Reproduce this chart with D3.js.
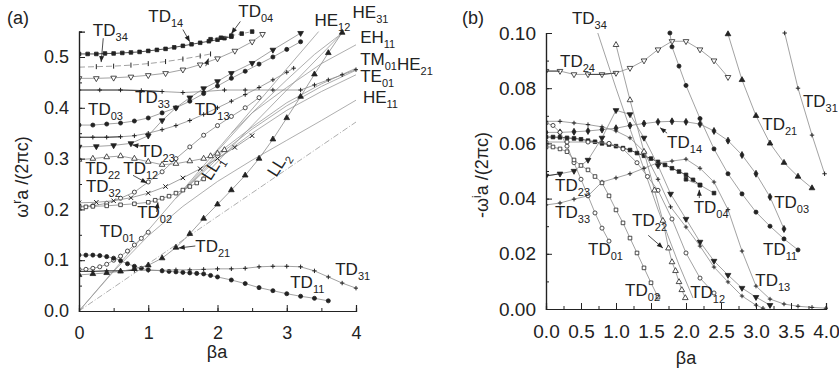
<!DOCTYPE html>
<html>
<head>
<meta charset="utf-8">
<script src="https://cdnjs.cloudflare.com/ajax/libs/d3/7.8.5/d3.min.js"></script>
<style>
  body { margin: 0; background: #fff; }
  svg { font-family: "Liberation Sans", Arial, sans-serif; }
</style>
</head>
<body>
<svg id="chart" width="839" height="372"></svg>
<script>
// ---- panel (a): real part, [beta*a, omega_r a/2pi c] ----
const td14A = [[0,.506],[.125,.506],[.25,.506],[.375,.507],[.5,.507],[.625,.508],[.75,.509],[.875,.51],[1,.512],[1.125,.514],[1.25,.516],[1.375,.519],[1.5,.522],[1.625,.525],[1.75,.528],[1.875,.531],[2,.534],[2.1,.537],[2.2,.54]];
const td04A = [[1.9,.535],[2.05,.538],[2.2,.542],[2.35,.546],[2.5,.55]];
const td34A = [[0,.48],[.25,.481],[.5,.482],[.75,.484],[1,.487],[1.25,.491],[1.5,.496],[1.75,.502],[1.9,.506]];
const td24A = [[0,.458],[.25,.458],[.5,.459],[.75,.461],[1,.464],[1.25,.468],[1.5,.475],[1.75,.485],[2,.497],[2.25,.512],[2.5,.53],[2.65,.545]];
const td33A = [[0,.435],[.3,.435],[.6,.435],[.9,.434],[1.2,.432],[1.5,.43],[1.8,.432],[2.1,.435],[2.4,.435],[2.8,.435],[3.2,.435],[3.4,.445],[3.6,.455],[3.8,.465],[4,.475]];
const td03A = [[0,.366],[.2,.366],[.4,.368],[.6,.37],[.8,.374],[1,.38],[1.2,.39],[1.4,.4],[1.6,.413],[1.8,.428],[2,.443],[2.2,.458],[2.4,.472],[2.6,.486],[2.8,.5],[3,.515],[3.2,.53]];
const td13A = [[0,.342],[.2,.342],[.4,.342],[.6,.343],[.8,.345],[1,.35],[1.2,.357],[1.4,.365],[1.6,.375],[1.8,.387],[2,.4],[2.2,.413],[2.4,.426],[2.6,.44],[2.8,.455],[3,.47],[3.1,.478]];
const td23A = [[0,.323],[.25,.324],[.5,.326],[.75,.33],[1,.345],[1.2,.375],[1.4,.4],[1.6,.42],[1.8,.438],[2,.452],[2.2,.468],[2.5,.488],[2.8,.514],[3.2,.547]];
const td22A = [[0,.298],[.2,.3],[.4,.303],[.6,.305],[.8,.3],[1,.294],[1.2,.288],[1.4,.29],[1.6,.295],[1.8,.3],[1.9,.305],[2,.31],[2.1,.317]];
const td12A = [[0,.206],[.2,.207],[.4,.212],[.6,.222],[.8,.234],[1,.254],[1.2,.274],[1.4,.3],[1.6,.323],[1.8,.346],[2,.365],[2.2,.383],[2.4,.4],[2.6,.42]];
const td32A = [[0,.213],[.25,.214],[.5,.217],[.75,.223],[1,.232],[1.25,.245],[1.5,.262],[1.75,.28],[2,.3],[2.25,.322],[2.5,.345]];
const td02A = [[0,.205],[.1,.205],[.2,.206],[.4,.207],[.6,.209],[.8,.211],[1,.214],[1.1,.218],[1.2,.222],[1.3,.226],[1.4,.232],[1.5,.238],[1.6,.245],[1.7,.252],[1.8,.26]];
const td01A = [[0,.082],[.1,.082],[.2,.084],[.3,.087],[.4,.092],[.5,.1],[.6,.108],[.7,.118],[.8,.13],[.9,.143],[1,.155]];
const td11A = [[0,.11],[.1,.11],[.2,.11],[.3,.109],[.4,.107],[.5,.104],[.6,.099],[.7,.093],[.8,.088],[.9,.084],[1,.081],[1.2,.079],[1.3,.078],[1.4,.077],[1.5,.076],[1.6,.075],[1.7,.074],[1.8,.073],[1.9,.07],[2,.067],[2.2,.061],[2.4,.054],[2.6,.046],[2.8,.04],[3,.034],[3.2,.029],[3.4,.025],[3.6,.02]];
const td31A = [[0,.078],[.2,.078],[.4,.079],[.6,.079],[.8,.08],[1,.08],[1.2,.08],[1.4,.081],[1.6,.081],[1.8,.082],[2,.083],[2.2,.083],[2.4,.084],[2.6,.087],[2.8,.088],[3,.088],[3.2,.087],[3.4,.079],[3.6,.067],[3.8,.055],[4,.045]];
const td21A = [[0,.071],[.2,.073],[.4,.075],[.6,.078],[.8,.083],[1,.09],[1.2,.104],[1.4,.125],[1.6,.152],[1.8,.182],[2,.21],[2.2,.238],[2.4,.267],[2.6,.3],[2.8,.338],[3,.38],[3.2,.422],[3.4,.466],[3.6,.508],[3.8,.548]];

// light lines and rod modes (no markers)
const ll1A = [[0,0],[3.46,.55]];
const ll2A = [[0,0],[4,.372]];
const he11A = [[0,0],[.5,.078],[1,.148],[1.5,.206],[2,.255],[2.5,.297],[3,.336],[3.5,.375],[4,.415]];
const te01A = [[1.4,.222],[2,.3],[2.5,.35],[3,.395],[3.5,.432],[4,.465]];
const tm01A = [[1.4,.222],[2,.305],[2.5,.358],[3,.404],[3.5,.442],[4,.474]];
const he21A = [[1.45,.23],[2,.31],[2.5,.362],[3,.41],[3.5,.447],[4,.478]];
const eh11A = [[2.2,.35],[2.5,.39],[3,.44],[3.5,.487],[4,.524]];
const he12A = [[1.75,.258],[2.5,.365],[3,.435],[3.5,.505],[3.8,.547]];
const he31A = [[1.9,.3],[2.5,.39],[3,.455],[3.4,.505],[3.8,.547]];

// ---- panel (b): imaginary part, [beta*a, -omega_i a/2pi c] ----
const td24B = [[0,.0862],[.2,.0862],[.4,.085],[.6,.085],[.8,.085],[1,.0855],[1.2,.0873],[1.4,.09],[1.6,.094],[1.8,.097],[2,.097],[2.2,.094],[2.4,.09],[2.6,.084]];
const td34B = [[.74,.1],[1,.08],[1.3,.058],[1.6,.036],[1.9,.016],[2.1,.004]];
const td31B = [[3.41,.1],[3.6,.08],[3.8,.063],[3.98,.049]];
const td21B = [[2.6,.0996],[2.8,.083],[3,.07],[3.2,.06],[3.4,.053],[3.6,.048],[3.8,.0438]];
const td11B = [[1.77,.1],[1.8,.095],[1.9,.088],[2,.081],[2.2,.069],[2.4,.058],[2.6,.049],[2.8,.0417],[3,.0351],[3.2,.03],[3.4,.0254],[3.6,.0214]];
const td03B = [[0,.064],[.2,.064],[.4,.0642],[.6,.0645],[.8,.065],[1,.0655],[1.2,.0665],[1.4,.0672],[1.6,.0678],[1.8,.068],[2,.0678],[2.2,.067],[2.4,.0645],[2.6,.061],[2.8,.0558],[3,.049],[3.2,.0406],[3.4,.029]];
const td14B = [[0,.0623],[.1,.0623],[.2,.0622],[.3,.062],[.4,.0618],[.5,.0615],[.6,.061],[.7,.0606],[.8,.06],[.9,.0596],[1,.059],[1.1,.0583],[1.2,.0576],[1.3,.0565],[1.4,.0555],[1.5,.0545],[1.6,.0533],[1.7,.0522],[1.8,.051],[1.9,.0498],[2,.0486],[2.1,.0468],[2.2,.0449]];
const td04B = [[2,.047],[2.2,.0449],[2.4,.042]];
const td23B = [[0,.0482],[.2,.049],[.4,.05],[.6,.054],[.8,.062],[1,.072],[1.2,.0705],[1.4,.062],[1.6,.052],[1.78,.0417],[2,.0326],[2.2,.0243],[2.4,.0174],[2.6,.0123],[2.8,.0076],[3,.0043],[3.2,.0014]];
const td13B = [[0,.068],[.2,.068],[.4,.0674],[.6,.0668],[.8,.066],[1,.0645],[1.2,.062],[1.4,.057],[1.6,.047],[1.78,.037],[2,.0297],[2.2,.0228],[2.4,.0152],[2.6,.0098],[2.8,.0047],[3,.0014],[3.1,.0003]];
const td33B = [[0,.0377],[.2,.0384],[.4,.0398],[.6,.041],[.8,.046],[1,.0475],[1.2,.049],[1.4,.051],[1.6,.053],[1.8,.0536],[2,.0543],[2.2,.051],[2.4,.046],[2.6,.036],[2.8,.021],[3,.0083],[3.2,.0036],[3.4,.0018],[3.6,.001],[3.8,.0006],[4,.0003]];
const td01B = [[0,.0674],[.1,.0665],[.2,.064],[.3,.059],[.4,.053],[.5,.047],[.6,.041],[.7,.0348],[.8,.0293],[.9,.0246]];
const td02B = [[0,.0587],[.1,.0587],[.2,.058],[.3,.057],[.4,.054],[.5,.052],[.6,.0504],[.7,.048],[.8,.0457],[.9,.041],[1,.0359],[1.1,.0312],[1.2,.0257],[1.3,.0203],[1.4,.0149],[1.5,.0095],[1.6,.0043]];
const td12B = [[0,.0605],[.3,.0605],[.6,.0605],[.9,.06],[1.1,.058],[1.3,.053],[1.45,.048],[1.6,.043],[1.8,.0326],[2,.0203],[2.2,.0112],[2.4,.0058]];
const td22B = [[1,.0957],[1.2,.0757],[1.4,.057],[1.55,.043],[1.67,.032],[1.75,.022],[1.8,.017],[1.85,.0138],[1.9,.0098],[1.94,.0069],[1.99,.004]];

// tick values
const xTicksA = [0, 1, 2, 3, 4];
const yTicksA = [0, .1, .2, .3, .4, .5];
const xTicksB = [0, .5, 1, 1.5, 2, 2.5, 3, 3.5, 4];
const yTicksB = [0, .02, .04, .06, .08, .10];

// labels: [text (letters_subscript), beta, omega]
const labelsA = [
  ["TD_34",.2,.542],["TD_14",1.0,.568],["TD_04",2.3,.578],["HE_12",3.4,.562],["HE_31",3.95,.576],
  ["EH_11",4.06,.528],["TM_01HE_21",4.06,.484],["TE_01",4.06,.450],["HE_11",4.1,.41],
  ["TD_03",.13,.386],["TD_33",.81,.41],["TD_13",1.67,.386],["TD_23",.88,.303],["TD_22",.09,.27],
  ["TD_12",.64,.27],["TD_32",.1,.235],["TD_02",.84,.183],["TD_01",.3,.145],["TD_21",1.68,.116],
  ["TD_11",3.05,.045],["TD_31",3.7,.071]
];
const labelsB = [
  ["TD_34",.37,.1034],["TD_24",.2,.0877],["TD_23",.13,.0428],["TD_33",.13,.0329],["TD_01",.6,.0196],
  ["TD_22",1.23,.0300],["TD_02",1.13,.0047],["TD_12",2.06,.004],["TD_04",2.11,.0348],["TD_14",1.73,.0583],
  ["TD_03",3.26,.0366],["TD_11",3.1,.0196],["TD_13",2.99,.0083],["TD_21",3.09,.0649],["TD_31",3.67,.0732]
];
// arrows: [from beta, from omega, to beta, to omega]
const arrowsA = [
  [.35,.537,.32,.49],[1.5,.554,1.6,.53],[2.33,.57,2.2,.546],[1.83,.482,1.87,.497],[.92,.324,.77,.327],
  [.78,.267,.98,.252],[1.12,.195,1.14,.214],[1.68,.128,1.44,.124]
];
const arrowsB = [
  [1.46,.0267,1.67,.0221],[2.19,.0402,2.19,.0432],[1.73,.0637,1.63,.0657]
];

const svg = d3.select("#chart");
const ink = "#222", grey = "#8a8a8a";

function addLabel(g, x, y, txt, size) {
  const t = g.append("text").attr("x", x).attr("y", y).attr("font-size", size).attr("fill", ink);
  for (const m of txt.matchAll(/([A-Z]+)_(\d+)/g)) {
    t.append("tspan").attr("dy", 0).text(m[1]);
    t.append("tspan").attr("dy", 5).attr("font-size", 11).text(m[2]);
    t.append("tspan").attr("dy", -5).text("");
  }
}

function drawMarker(g, type, x, y) {
  const sym = {sq: d3.symbolSquare, c: d3.symbolCircle, t: d3.symbolTriangle, d: d3.symbolDiamond, v: d3.symbolTriangle};
  if (type === "plus" || type === "bar" || type === "cross") {
    const s = 2.2;
    const p = type === "plus" ? `M${x-s},${y}H${x+s}M${x},${y-s}V${y+s}` :
              type === "bar" ? `M${x},${y-2.5}V${y+2.5}` :
              `M${x-s},${y-s}L${x+s},${y+s}M${x-s},${y+s}L${x+s},${y-s}`;
    g.append("path").attr("d", p).attr("stroke", ink).attr("stroke-width", 1).attr("fill", "none");
    return;
  }
  const kind = type.slice(0, -1), fill = type.slice(-1) === "f";
  const size = kind === "sq" ? 13 : kind === "c" ? 13 : 14;
  g.append("path")
    .attr("d", d3.symbol().type(sym[kind]).size(size)())
    .attr("transform", `translate(${x},${y})` + (kind === "v" ? " rotate(180)" : ""))
    .attr("fill", fill ? ink : "#fff").attr("stroke", ink).attr("stroke-width", 0.8);
}

function panel(cfg) {
  const x = d3.scaleLinear().domain([0, 4]).range([cfg.left, cfg.right]);
  const y = d3.scaleLinear().domain([0, cfg.ymax]).range([cfg.bottom, cfg.top]);
  const g = svg.append("g");
  const clipId = "clip" + cfg.id;
  svg.append("clipPath").attr("id", clipId).append("rect")
    .attr("x", cfg.left).attr("y", cfg.top - 3).attr("width", cfg.right - cfg.left + 2).attr("height", cfg.bottom - cfg.top + 3);
  const plot = g.append("g").attr("clip-path", `url(#${clipId})`);
  const line = d3.line().x(d => x(d[0])).y(d => y(d[1]));

  cfg.series.forEach(s => {
    plot.append("path").datum(s.data).attr("d", line).attr("fill", "none")
      .attr("stroke", s.color || grey).attr("stroke-width", s.w || 0.8)
      .attr("stroke-dasharray", s.dash || null);
    if (s.mark) s.data.forEach(d => drawMarker(plot, s.mark, x(d[0]), y(d[1])));
  });

  // axes, ticks pointing inward
  const xa = g.append("g").attr("transform", `translate(0,${cfg.bottom})`)
    .call(d3.axisBottom(x).tickValues(cfg.xMinor).tickSize(-3).tickFormat(""));
  const xb = g.append("g").attr("transform", `translate(0,${cfg.bottom})`)
    .call(d3.axisBottom(x).tickValues(cfg.xTicks).tickSize(-6).tickPadding(12).tickFormat(cfg.xFmt));
  const ya = g.append("g").attr("transform", `translate(${cfg.left},0)`)
    .call(d3.axisLeft(y).tickValues(cfg.yMinor).tickSize(-3).tickFormat(""));
  const yb = g.append("g").attr("transform", `translate(${cfg.left},0)`)
    .call(d3.axisLeft(y).tickValues(cfg.yTicks).tickSize(-6).tickPadding(10).tickFormat(cfg.yFmt));
  [xa, xb, ya, yb].forEach(a => {
    a.select(".domain").attr("stroke", ink).attr("stroke-width", 1.2);
    a.selectAll(".tick line").attr("stroke", ink).attr("stroke-width", 1);
    a.selectAll(".tick text").attr("font-size", cfg.fs).attr("fill", ink)
      .attr("font-family", '"Liberation Sans", Arial, sans-serif');
  });
  xb.selectAll(".tick text").attr("dy", "0.9em");

  cfg.labels.forEach(l => addLabel(g, x(l[1]), y(l[2]), l[0], 17));
  cfg.arrows.forEach(a => {
    const x1 = x(a[0]), y1 = y(a[1]), x2 = x(a[2]), y2 = y(a[3]);
    g.append("line").attr("x1", x1).attr("y1", y1).attr("x2", x2).attr("y2", y2)
      .attr("stroke", ink).attr("stroke-width", 0.8);
    const ang = Math.atan2(y2 - y1, x2 - x1) * 180 / Math.PI;
    g.append("path").attr("d", "M0,0L-6,-2.5L-6,2.5Z").attr("fill", ink)
      .attr("transform", `translate(${x2},${y2}) rotate(${ang})`);
  });
  return {x, y, g};
}

// ---------- panel (a) ----------
const A = panel({
  id: "a", left: 79, right: 356, top: 311 - 0.55 * 508, bottom: 311, ymax: 0.55, fs: 18,
  xTicks: xTicksA, xMinor: d3.range(0, 4.01, 0.5), yTicks: yTicksA, yMinor: d3.range(0, 0.551, 0.05),
  xFmt: d3.format("d"), yFmt: d3.format(".1f"),
  series: [
    {data: ll1A, color: "#999"},
    {data: ll2A, color: "#999", dash: "6,2,1,2"},
    {data: he11A, color: "#999"}, {data: te01A, color: "#999"}, {data: tm01A, color: "#999"},
    {data: he21A, color: "#999"}, {data: eh11A, color: "#999"}, {data: he12A, color: "#999"}, {data: he31A, color: "#999"},
    {data: td14A, mark: "sqf", color: ink},
    {data: td04A, mark: "sqf", color: grey, dash: "4,3"},
    {data: td34A, mark: "bar", color: grey, dash: "6,3"},
    {data: td24A, mark: "vo", color: grey},
    {data: td33A, mark: "plus", color: grey},
    {data: td33A.slice(0, 5), color: ink},
    {data: td03A, mark: "cf", color: grey},
    {data: td13A, mark: "plus", color: grey},
    {data: td13A.slice(0, 4), color: ink},
    {data: td23A, mark: "vf", color: grey},
    {data: td22A, mark: "to", color: grey},
    {data: td12A, mark: "co", color: grey},
    {data: td32A, mark: "cross", color: grey},
    {data: td02A, mark: "sqo", color: grey},
    {data: td01A, mark: "co", color: grey},
    {data: td11A, mark: "cf", color: grey},
    {data: td31A, mark: "plus", color: grey},
    {data: td31A.slice(0, 5), color: ink},
    {data: td21A, mark: "tf", color: grey}
  ],
  labels: labelsA, arrows: arrowsA
});

// ---------- panel (b) ----------
const B = panel({
  id: "b", left: 546, right: 826, top: 33, bottom: 309, ymax: 0.10, fs: 19,
  xTicks: xTicksB, xMinor: d3.range(0, 4.01, 0.25), yTicks: yTicksB, yMinor: d3.range(0, 0.1001, 0.01),
  xFmt: d3.format(".1f"), yFmt: d3.format(".2f"),
  series: [
    {data: td24B, mark: "vo", color: grey},
    {data: td24B.slice(0, 2), color: ink},
    {data: td24B.slice(3, 6), color: ink},
    {data: td34B, color: grey},
    {data: td31B, mark: "plus", color: grey},
    {data: td21B, mark: "tf", color: grey},
    {data: td11B, mark: "cf", color: grey},
    {data: td03B, mark: "df", color: grey},
    {data: td14B, mark: "sqf", color: ink},
    {data: td04B, mark: "sqf", color: grey},
    {data: td23B, mark: "vf", color: grey},
    {data: td23B.slice(0, 2), color: ink},
    {data: td13B, mark: "plus", color: grey},
    {data: td33B, mark: "plus", color: grey},
    {data: td01B, mark: "co", color: grey},
    {data: td02B, mark: "sqo", color: grey},
    {data: td12B, mark: "co", color: grey},
    {data: td22B, mark: "to", color: grey}
  ],
  labels: labelsB, arrows: arrowsB
});

// rotated light-line labels
[["LL_1",1.9,.255],["LL_2",2.85,.262]].forEach(l => {
  const g = svg.append("g").attr("transform", `translate(${A.x(l[1])},${A.y(l[2])}) rotate(-58)`);
  addLabel(g, 0, 0, l[0], 17);
});

// panel tags and axis titles
svg.append("text").attr("x", 7).attr("y", 24).attr("font-size", 18).attr("fill", ink).text("(a)");
svg.append("text").attr("x", 462).attr("y", 24).attr("font-size", 18).attr("fill", ink).text("(b)");

function yTitle(cx, cy, prefix, sup) {
  const t = svg.append("text").attr("transform", `translate(${cx},${cy}) rotate(-90)`)
    .attr("text-anchor", "middle").attr("font-size", 18).attr("fill", ink);
  t.append("tspan").text(prefix + "\u03c9");
  t.append("tspan").attr("dy", -7).attr("font-size", 12).text(sup);
  t.append("tspan").attr("dy", 7).text("a /(2\u03c0c)");
}
yTitle(28, 177, "", "r");
yTitle(488, 175, "-", "i");
svg.append("text").attr("x", 217).attr("y", 358).attr("text-anchor", "middle").attr("font-size", 18).attr("fill", ink).text("\u03b2a");
svg.append("text").attr("x", 686).attr("y", 364).attr("text-anchor", "middle").attr("font-size", 18).attr("fill", ink).text("\u03b2a");
</script>
</body>
</html>
